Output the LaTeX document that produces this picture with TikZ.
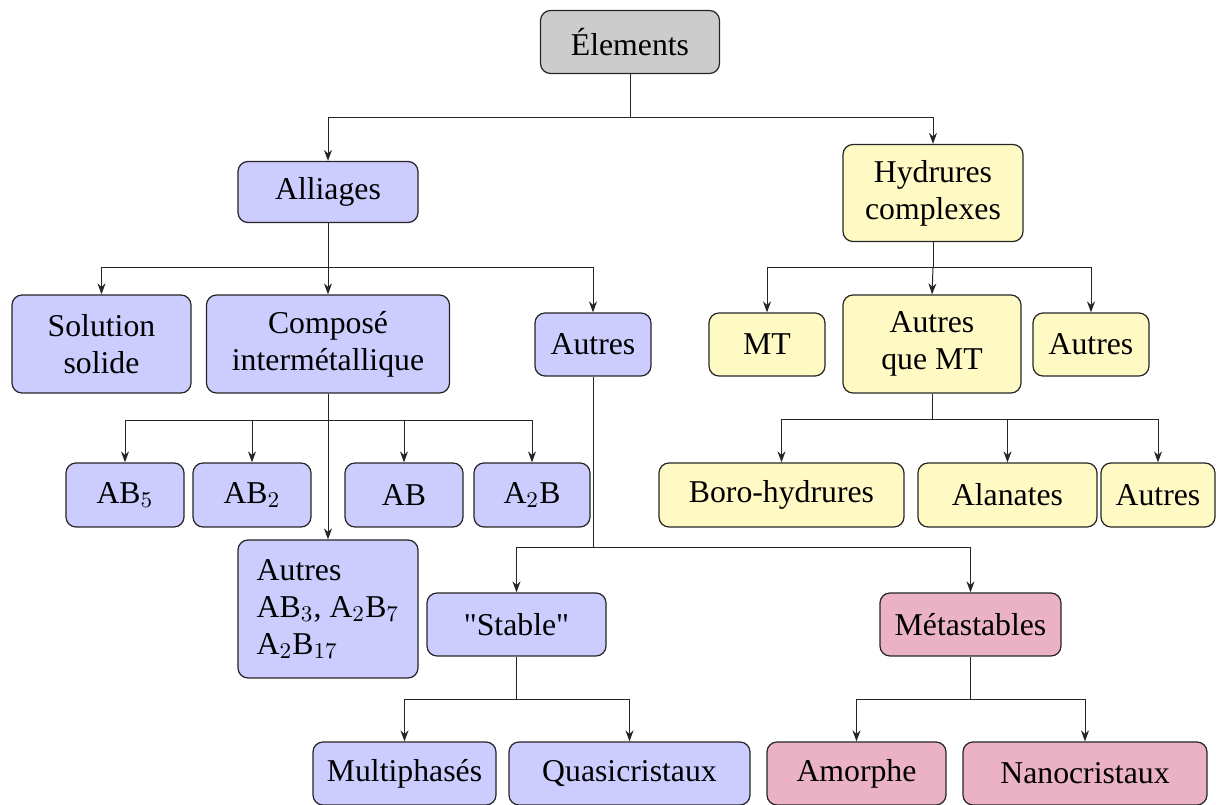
\documentclass[tikz,border=0pt]{standalone}
\usepackage{fontspec}
\setmainfont{Liberation Serif}
\newfontfamily\plainserif{Liberation Serif}
\usetikzlibrary{arrows.meta}
\definecolor{cgray}{RGB}{204,204,204}
\definecolor{clav}{RGB}{204,204,255}
\definecolor{cyel}{RGB}{255,249,196}
\definecolor{cpink}{RGB}{234,178,196}
\tikzset{
  box/.style={draw=black!85, line width=0.5pt, rounded corners=4pt, align=center,
    inner sep=2pt, font=\fontsize{12.7}{14.8}\selectfont},
  gbox/.style={box, fill=cgray},
  lbox/.style={box, fill=clav},
  ybox/.style={box, fill=cyel},
  pbox/.style={box, fill=cpink},
  link/.style={draw=black!85, line width=0.4pt},
  arr/.style={link, -{Stealth[length=4.4pt,width=3.2pt]}},
}
\begin{document}
\begin{tikzpicture}[x=0.4pt,y=-0.4pt]
\useasboundingbox (0,0) rectangle (1216,805);
% nodes
\node[gbox, minimum width=71.6pt, minimum height=25.2pt] (elem) at (630,42) {Élements};
\node[lbox, minimum width=72pt, minimum height=24.4pt] (all) at (328,192) {Alliages};
\node[ybox, minimum width=72pt, minimum height=38.8pt] (hyd) at (933,193) {Hydrures\\complexes};
\node[lbox, minimum width=71.6pt, minimum height=39.2pt] (sol) at (101.5,344) {Solution\\solide};
\node[lbox, minimum width=97.2pt, minimum height=39.2pt] (comp) at (328,344) {Composé\\intermétallique};
\node[lbox, minimum width=46.4pt, minimum height=25.2pt] (autA) at (593,344.5) {Autres};
\node[ybox, minimum width=46.4pt, minimum height=25.2pt] (mt) at (767,344.5) {MT};
\node[ybox, minimum width=71.2pt, minimum height=39.2pt] (aqmt) at (932,344) {Autres\\que MT};
\node[ybox, minimum width=46.4pt, minimum height=25.2pt] (autH) at (1091,344.5) {Autres};
\node[lbox, minimum width=47.2pt, minimum height=25.6pt] (ab5) at (125,495) {AB$_5$};
\node[lbox, minimum width=47.2pt, minimum height=25.6pt] (ab2) at (252,495) {AB$_2$};
\node[lbox, minimum width=47.2pt, minimum height=25.6pt] (ab) at (404,495) {AB};
\node[lbox, minimum width=46.4pt, minimum height=25.6pt] (a2b) at (532,495) {A$_2$B};
\node[lbox, minimum width=72pt, minimum height=55.2pt, align=left] (autAB) at (328,609) {Autres\\AB$_3$, A$_2$B$_7$\\A$_2$B$_{17}$};
\node[ybox, minimum width=98pt, minimum height=25.6pt] (boro) at (781.5,495) {Boro-hydrures};
\node[ybox, minimum width=71.6pt, minimum height=25.6pt] (alan) at (1007.5,495) {Alanates};
\node[ybox, minimum width=45.6pt, minimum height=25.6pt] (autB) at (1158,495) {Autres};
\node[lbox, minimum width=71.6pt, minimum height=25.2pt] (stab) at (516.5,624.5) {\plainserif "Stable"};
\node[pbox, minimum width=72.4pt, minimum height=25.2pt] (meta) at (970.5,624.5) {Métastables};
\node[lbox, minimum width=73.2pt, minimum height=25.2pt] (multi) at (404.5,773.5) {Multiphasés};
\node[lbox, minimum width=96.4pt, minimum height=25.2pt] (quasi) at (629.5,773.5) {Quasicristaux};
\node[pbox, minimum width=71.6pt, minimum height=25.2pt] (amor) at (856.5,773.5) {Amorphe};
\node[pbox, minimum width=97.6pt, minimum height=25.2pt] (nano) at (1085,773.5) {Nanocristaux};
% junctions
\coordinate (j1) at (630,118);
\coordinate (j2) at (328,268);
\coordinate (j3) at (933,268);
\coordinate (j4) at (328,421);
\coordinate (j5) at (932,420);
\coordinate (j6) at (593,548);
\coordinate (j7) at (516.5,700);
\coordinate (j8) at (970.5,700);
% connectors
\draw[link] (elem.south) -- (j1);
\draw[arr] (j1) -| (all.north);
\draw[arr] (j1) -| (hyd.north);
\draw[link] (all.south) -- (j2);
\draw[arr] (j2) -| (sol.north);
\draw[arr] (j2) -- (comp.north);
\draw[arr] (j2) -| (autA.north);
\draw[link] (hyd.south) -- (j3);
\draw[arr] (j3) -| (mt.north);
\draw[arr] (j3) -- (aqmt.north);
\draw[arr] (j3) -| (autH.north);
\draw[link] (comp.south) -- (j4);
\draw[arr] (j4) -| (ab5.north);
\draw[arr] (j4) -| (ab2.north);
\draw[arr] (j4) -| (ab.north);
\draw[arr] (j4) -| (a2b.north);
\draw[arr] (j4) -- (autAB.north);
\draw[link] (aqmt.south) -- (j5);
\draw[arr] (j5) -| (boro.north);
\draw[arr] (j5) -| (alan.north);
\draw[arr] (j5) -| (autB.north);
\draw[link] (autA.south) -- (j6);
\draw[arr] (j6) -| (stab.north);
\draw[arr] (j6) -| (meta.north);
\draw[link] (stab.south) -- (j7);
\draw[arr] (j7) -| (multi.north);
\draw[arr] (j7) -| (quasi.north);
\draw[link] (meta.south) -- (j8);
\draw[arr] (j8) -| (amor.north);
\draw[arr] (j8) -| (nano.north);
\end{tikzpicture}
\end{document}
